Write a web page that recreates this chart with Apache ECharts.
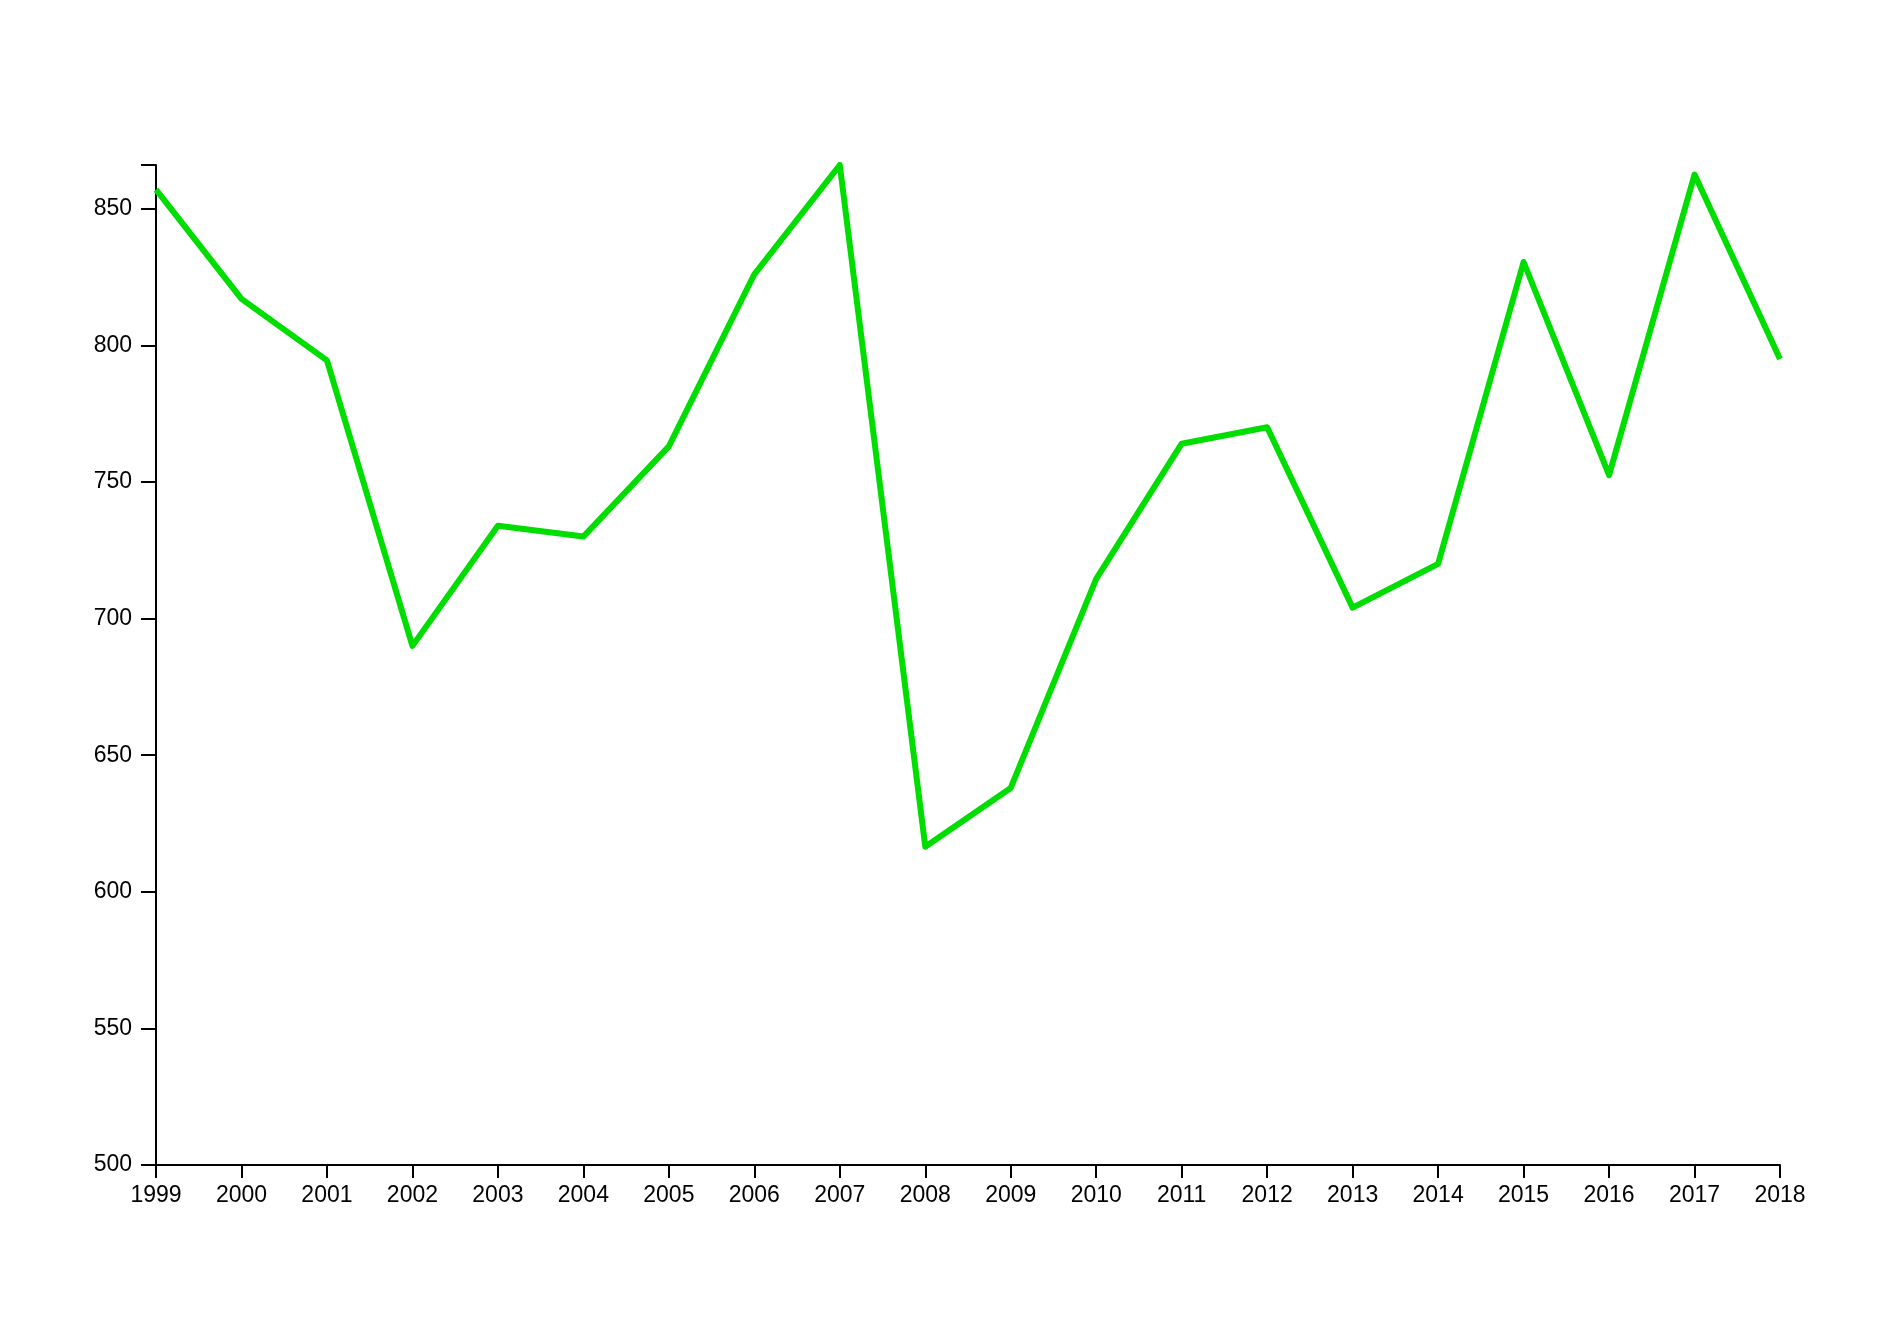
<!DOCTYPE html>
<html>
<head>
<meta charset="utf-8">
<script src="https://cdn.jsdelivr.net/npm/echarts@6/dist/echarts.min.js"></script>
<style>html,body{margin:0;padding:0;background:#fff;}#c{width:1900px;height:1328px;}</style>
</head>
<body>
<div id="c"></div>
<script>
const years = ['1999','2000','2001','2002','2003','2004','2005','2006','2007','2008','2009','2010','2011','2012','2013','2014','2015','2016','2017','2018'];
const values = [857, 817, 794.5, 690, 734, 730, 763, 826, 866, 616.5, 638, 714.5, 764, 770, 704, 720, 830.5, 752.5, 862.5, 795];
const yLabels = [500, 550, 600, 650, 700, 750, 800, 850];
const yMin = 500, yMax = 866, yStep = 50;
const yTicks = yLabels.concat([yMax]);

const chart = echarts.init(document.getElementById('c'), null, {renderer: 'canvas'});
const font = {fontFamily: 'Liberation Sans, Arial, Helvetica, sans-serif', fontSize: 23, color: '#000'};
chart.setOption({
  animation: false,
  backgroundColor: '#fff',
  grid: {left: 156, right: 120, top: 165, bottom: 163, containLabel: false},
  xAxis: {
    type: 'category',
    data: years,
    boundaryGap: false,
    axisLine: {lineStyle: {color: '#000', width: 2}},
    axisTick: {alignWithLabel: true, length: 13, lineStyle: {color: '#000', width: 2}},
    axisLabel: Object.assign({margin: 19, interval: 0}, font),
    splitLine: {show: false}
  },
  yAxis: {
    type: 'value',
    min: yMin, max: yMax, interval: yStep,
    axisLine: {show: true, lineStyle: {color: '#000', width: 2}},
    axisTick: {show: true, length: 15, customValues: yTicks, lineStyle: {color: '#000', width: 2}},
    axisLabel: Object.assign({margin: 24, customValues: yLabels}, font),
    splitLine: {show: false}
  },
  series: [{
    type: 'line',
    data: values,
    symbol: 'none',
    lineStyle: {color: '#00dd00', width: 6, join: 'round', cap: 'butt'}
  }]
});
</script>
</body>
</html>
